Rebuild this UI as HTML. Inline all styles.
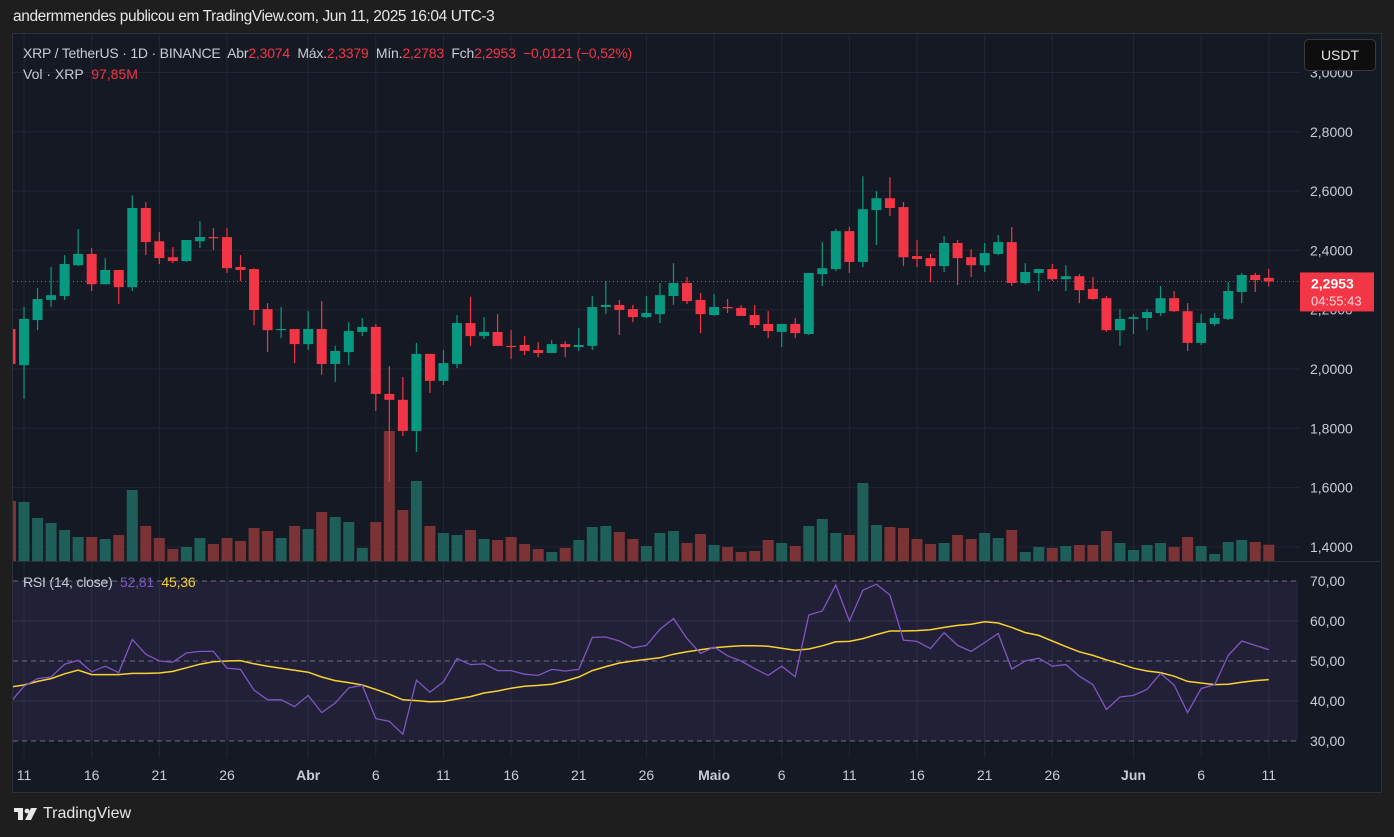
<!DOCTYPE html>
<html><head><meta charset="utf-8">
<style>
html,body{margin:0;padding:0;background:#1e1e1e;width:1394px;height:837px;overflow:hidden;font-family:"Liberation Sans",sans-serif;}
#hdr{position:absolute;left:13px;top:8px;color:#e6e6e6;font-size:15.5px;letter-spacing:-0.4px;}
#frame{position:absolute;left:12px;top:33px;width:1368px;height:758px;border:1px solid #2e3038;background:#151924;}
svg text{font-family:"Liberation Sans",sans-serif;white-space:pre;}
#footer{position:absolute;left:14px;top:805px;color:#e8e8e8;font-size:16px;display:flex;align-items:center;gap:5px;}
</style></head><body>
<div id="hdr">andermmendes publicou em TradingView.com, Jun 11, 2025 16:04 UTC-3</div>
<div id="frame"></div>
<svg id="chart" width="1394" height="837" style="position:absolute;left:0;top:0">
  <defs>
    <clipPath id="pclip"><rect x="13" y="34" width="1287" height="527"/></clipPath>
    <clipPath id="rclip"><rect x="13" y="562" width="1287" height="196"/></clipPath>
  </defs>
  <g id="grid"></g>
  <rect x="13" y="581" width="1285" height="160" fill="rgba(126,87,194,0.12)"/>
  <line x1="13" y1="561.5" x2="1380" y2="561.5" stroke="#2e3038"/>
  <g id="vol" clip-path="url(#pclip)"></g>
  <g id="candles" clip-path="url(#pclip)"></g>
  <g id="rsi" clip-path="url(#rclip)"></g>
  <g id="axes"></g>
  <text x="23" y="58" font-size="14" fill="#c9ccd4" letter-spacing="-0.2" xml:space="preserve">XRP / TetherUS · 1D · BINANCE  Abr<tspan fill="#f23645">2,3074</tspan>  Máx.<tspan fill="#f23645">2,3379</tspan>  Mín.<tspan fill="#f23645">2,2783</tspan>  Fch<tspan fill="#f23645">2,2953</tspan>  <tspan fill="#f23645">−0,0121 (−0,52%)</tspan></text>
  <text x="23" y="79" font-size="14" fill="#c9ccd4" xml:space="preserve">Vol · XRP  <tspan fill="#f23645">97,85M</tspan></text>
  <text x="23" y="587" font-size="14" fill="#c9ccd4" letter-spacing="-0.2" xml:space="preserve">RSI (14, close)  <tspan fill="#7e57c2">52,81</tspan>  <tspan fill="#f7d230">45,36</tspan></text>
  <g>
    <rect x="1304.5" y="39.5" width="71" height="31" rx="4" fill="#0e0e0e" stroke="#3a3a3a"/>
    <text x="1340" y="60" font-size="14" fill="#e6e6e6" text-anchor="middle">USDT</text>
  </g>
</svg>
<div id="footer">
  <svg width="24" height="16" viewBox="0 0 24 16"><rect x="0" y="2" width="9" height="4" fill="#e8e8e8"/><rect x="4" y="2" width="5" height="12" fill="#e8e8e8"/><circle cx="13" cy="5" r="2.4" fill="#e8e8e8"/><polygon points="17,2 23,2 17,14 11,14" fill="#e8e8e8"/></svg>
  <span>TradingView</span>
</div>
<script>
const opens=[2.135,2.013,2.165,2.233,2.246,2.350,2.388,2.286,2.334,2.276,2.543,2.431,2.377,2.364,2.431,2.445,2.445,2.344,2.337,2.202,2.131,2.135,
2.084,2.135,2.017,2.057,2.125,2.142,1.916,1.896,1.791,2.051,1.960,2.017,2.155,2.111,2.125,2.078,2.081,2.064,2.054,2.084,2.074,2.078,2.209,2.216,2.202,2.175,2.185,2.246,2.290,2.233,
2.182,2.209,2.206,2.182,2.152,2.125,2.152,2.118,2.320,2.337,2.465,2.361,2.536,2.576,2.546,2.381,2.374,2.347,2.425,2.377,2.350,2.388,2.428,2.290,2.324,2.337,2.303,2.313,2.270,2.239,2.131,
2.169,2.172,2.189,2.239,2.195,2.088,2.152,2.169,2.260,2.317,2.3074];
const closes=[2.017,2.169,2.236,2.249,2.354,2.388,2.286,2.334,2.276,2.543,2.428,2.374,2.364,2.435,2.445,2.441,2.340,2.334,2.199,2.131,2.135,2.084,
2.135,2.017,2.061,2.128,2.142,1.916,1.896,1.791,2.051,1.960,2.020,2.155,2.111,2.125,2.078,2.076,2.061,2.054,2.084,2.074,2.081,2.209,2.216,2.199,2.175,2.189,2.249,2.290,2.229,2.185,
2.209,2.206,2.179,2.148,2.128,2.152,2.121,2.324,2.340,2.465,2.361,2.539,2.576,2.543,2.377,2.371,2.347,2.425,2.374,2.350,2.391,2.428,2.290,2.327,2.337,2.303,2.313,2.266,2.236,2.131,2.169,
2.175,2.192,2.239,2.195,2.088,2.155,2.172,2.263,2.317,2.300,2.2953];
const highs=[2.165,2.209,2.273,2.344,2.384,2.472,2.408,2.374,2.334,2.586,2.563,2.462,2.411,2.435,2.499,2.475,2.475,2.384,2.340,2.222,2.209,2.135,
2.195,2.229,2.078,2.158,2.172,2.152,2.010,1.973,2.088,2.051,2.064,2.182,2.243,2.175,2.185,2.131,2.111,2.091,2.098,2.094,2.138,2.246,2.297,2.233,2.216,2.246,2.290,2.357,2.310,2.256,
2.253,2.236,2.216,2.216,2.195,2.152,2.172,2.324,2.428,2.472,2.479,2.650,2.600,2.647,2.563,2.435,2.388,2.448,2.435,2.404,2.425,2.452,2.479,2.357,2.337,2.354,2.350,2.320,2.310,2.246,2.202,
2.185,2.202,2.280,2.263,2.222,2.185,2.189,2.293,2.324,2.324,2.3379];
const lows=[2.013,1.899,2.131,2.209,2.233,2.347,2.263,2.286,2.219,2.263,2.384,2.354,2.357,2.361,2.408,2.401,2.324,2.297,2.148,2.057,2.104,2.020,
2.064,1.980,1.956,2.013,2.111,1.858,1.620,1.774,1.720,1.919,1.946,2.003,2.078,2.101,2.078,2.034,2.047,2.040,2.054,2.040,2.061,2.064,2.185,2.115,2.158,2.172,2.155,2.216,2.219,2.121,
2.179,2.189,2.179,2.138,2.104,2.074,2.104,2.115,2.280,2.330,2.324,2.344,2.418,2.516,2.347,2.344,2.293,2.327,2.283,2.310,2.327,2.384,2.280,2.286,2.263,2.297,2.263,2.222,2.233,2.125,2.078,
2.118,2.131,2.179,2.192,2.061,2.081,2.145,2.165,2.222,2.260,2.2783];
const volumes=[360,354,258,228,186,144,144,132,156,426,210,138,72,84,138,102,138,120,198,180,138,210,
192,294,264,234,78,234,780,306,480,210,168,156,186,132,126,144,102,72,54,78,126,204,210,174,132,90,168,180,108,162,
96,84,54,60,126,108,90,210,252,168,156,468,216,204,198,132,102,108,156,132,168,138,186,54,84,78,90,96,96,180,108,
66,96,108,84,144,90,42,114,126,114,97.85];
const rsiValues=[39.7,43.7,45.6,46,49.2,50.2,47.3,48.7,47.1,55.4,51.7,50,49.7,52,52.4,52.4,48.2,47.9,42.7,40.3,40.3,38.6,
41.4,37.1,39.5,43.3,43.9,35.6,34.9,31.7,45.2,42.2,44.8,50.6,49.1,49.3,47.6,47.6,46.7,46.4,47.9,47.5,47.9,55.9,56,55,53.3,53.9,57.9,60.6,55.6,51.9,
53.5,51.3,50,48.1,46.4,48.7,46.1,61.5,62.5,69,60,67.7,69.2,66.5,55.2,54.9,53.1,57.1,53.9,52.4,54.6,56.9,48,50,50.7,48.7,49.1,46.2,44.1,37.9,41,
41.4,42.9,46.9,44,37.1,43.1,44.1,51.4,55,53.9,52.81];
const rsiMa=[43.5,44,44.9,45.6,46.8,47.7,46.6,46.6,46.6,46.9,46.9,47,47.4,48.3,49.2,49.8,50,50.1,49.3,48.7,48.2,47.7,
47.2,46,45.1,44.6,44,42.9,41.7,40.3,40.1,39.8,39.9,40.5,41.1,42,42.5,43.2,43.7,43.9,44.2,45,46,47.6,48.6,49.5,50,50.4,50.8,51.7,52.3,52.8,
53.3,53.6,53.8,53.8,53.7,53.2,52.7,53,53.8,54.8,54.9,55.6,56.6,57.5,57.5,57.6,57.8,58.4,58.9,59.2,59.8,59.5,58.4,57.1,56.4,55,53.6,52.3,51.4,50.3,49.3,
48.2,47.5,47.1,46.2,44.9,44.5,44.1,44.2,44.7,45.1,45.36];
const dateTickLabels=["11","16","21","26","Abr","6","11","16","21","26","Maio","6","11","16","21","26","Jun","6","11"];
const dateTickIndex=[1,6,11,16,22,27,32,37,42,47,52,57,62,67,72,77,83,88,93];
const priceTicks=[1.4,1.6,1.8,2.0,2.2,2.4,2.6,2.8,3.0];
const rsiTicks=[30,40,50,60,70];
const lastPrice=2.2953;

const NS="http://www.w3.org/2000/svg";
const xOf=i=>10.5+i*13.53;
const yP=p=>369-(p-2)*296.5;
const yV=v=>561-v/6;
const yR=r=>581+(70-r)*4;
const UP="#089981",DN="#f23645";
function mk(tag,attrs,parent){const e=document.createElementNS(NS,tag);for(const k in attrs)e.setAttribute(k,attrs[k]);parent.appendChild(e);return e;}
const grid=document.getElementById('grid'),axes=document.getElementById('axes');

dateTickIndex.forEach((di,k)=>{
  const x=xOf(di);
  const l=mk('line',{x1:x,y1:34,x2:x,y2:758,stroke:'#222633'},grid);
  
  
  const bold=isNaN(+dateTickLabels[k]);
  const t=mk('text',{x:x,y:780,'font-size':14,fill:'#c9ccd4','text-anchor':'middle','font-weight':bold?'bold':'normal'},axes);
  t.textContent=dateTickLabels[k];
  
  
});
priceTicks.forEach(p=>{
  const y=yP(p);
  if(y>36&&y<560){const l=mk('line',{x1:13,y1:y,x2:1300,y2:y,stroke:'#222633'},grid);
  
  }
  const t=mk('text',{x:1310,y:y+5,'font-size':14,fill:'#c9ccd4'},axes);
  t.textContent=p.toFixed(4).replace('.',',');
  
  
});
rsiTicks.forEach(r=>{
  const y=yR(r);
  const dashed=(r===30||r===50||r===70);
  const l=mk('line',{x1:13,y1:y,x2:1298,y2:y,stroke:dashed?'#6b6f80':'#2c2f40','stroke-dasharray':dashed?'5,4':'none'},grid);
  
  
  const t=mk('text',{x:1310,y:y+5,'font-size':14,fill:'#c9ccd4'},axes);
  t.textContent=r.toFixed(2).replace('.',',');
  
  
});
const vg=document.getElementById('vol');
volumes.forEach((v,i)=>{
  const up=closes[i]>=opens[i];
  const r=mk('rect',{x:xOf(i)-5.5,y:yV(v),width:11,height:561-yV(v),fill:up?'#1e5f59':'#7b3336'},vg);
  
  
});
const pl=mk('line',{x1:13,y1:yP(lastPrice),x2:1300,y2:yP(lastPrice),stroke:'#f23645','stroke-dasharray':'1,3'},grid);


const cg=document.getElementById('candles');
opens.forEach((o,i)=>{
  const c=closes[i],up=c>=o,col=up?UP:DN,x=xOf(i);
  const g=mk('g',{},cg);
  
  
  mk('line',{x1:x,y1:yP(highs[i]),x2:x,y2:yP(lows[i]),stroke:col,'stroke-width':1.2},g);
  const top=Math.min(yP(o),yP(c)),h=Math.max(1.2,Math.abs(yP(o)-yP(c)));
  mk('rect',{x:x-5,y:top,width:10,height:h,fill:col},g);
});
const rg=document.getElementById('rsi');
const pathOf=arr=>arr.map((r,i)=>(i?'L':'M')+xOf(i).toFixed(1)+','+yR(r).toFixed(1)).join('');
const ma=mk('path',{d:pathOf(rsiMa),fill:'none',stroke:'#f7d230','stroke-width':1.5},rg);


const rl=mk('path',{d:pathOf(rsiValues),fill:'none',stroke:'#7e57c2','stroke-width':1.3},rg);


const lg=mk('g',{},axes);


const ly=yP(lastPrice);
mk('rect',{x:1300,y:ly-9,width:74,height:39,fill:'#f23645'},lg);
const t1=mk('text',{x:1311,y:ly+7,'font-size':14,fill:'#ffffff','font-weight':'bold'},lg);t1.textContent=lastPrice.toFixed(4).replace('.',',');
const t2=mk('text',{x:1311,y:ly+24,'font-size':13,fill:'#ffd8db'},lg);t2.textContent='04:55:43';
</script>
</body></html>
